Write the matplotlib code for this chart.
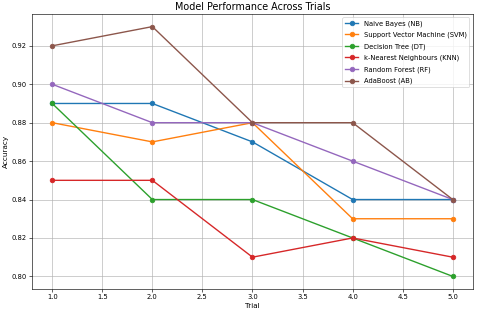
import matplotlib
matplotlib.use('Agg')
import matplotlib.pyplot as plt

trials = [1, 2, 3, 4, 5]

nb = [0.89, 0.89, 0.87, 0.84, 0.84]
svm = [0.88, 0.87, 0.88, 0.83, 0.83]
dt = [0.89, 0.84, 0.84, 0.82, 0.80]
knn = [0.85, 0.85, 0.81, 0.82, 0.81]
rf = [0.90, 0.88, 0.88, 0.86, 0.84]
ab = [0.92, 0.93, 0.88, 0.88, 0.84]

labels = ['Naive Bayes (NB)', 'Support Vector Machine (SVM)', 'Decision Tree (DT)',
          'k-Nearest Neighbours (KNN)', 'Random Forest (RF)', 'AdaBoost (AB)']
series = [nb, svm, dt, knn, rf, ab]

dpi = 55
fig, ax = plt.subplots(figsize=(480 / dpi, 314 / dpi), dpi=dpi)
for vals, lab in zip(series, labels):
    ax.plot(trials, vals, marker='o', label=lab, linewidth=1.8)

ax.set_title('Model Performance Across Trials', fontsize=12.6)
ax.set_xlabel('Trial', fontsize=9.5)
ax.set_ylabel('Accuracy', fontsize=9.5)
ax.tick_params(labelsize=8.8)
ax.grid(True)
ax.legend(loc='upper right', fontsize=8.8, labelspacing=0.75)
fig.subplots_adjust(left=0.067, right=0.985, top=0.955, bottom=0.08)
fig.savefig('out.png', dpi=dpi)
